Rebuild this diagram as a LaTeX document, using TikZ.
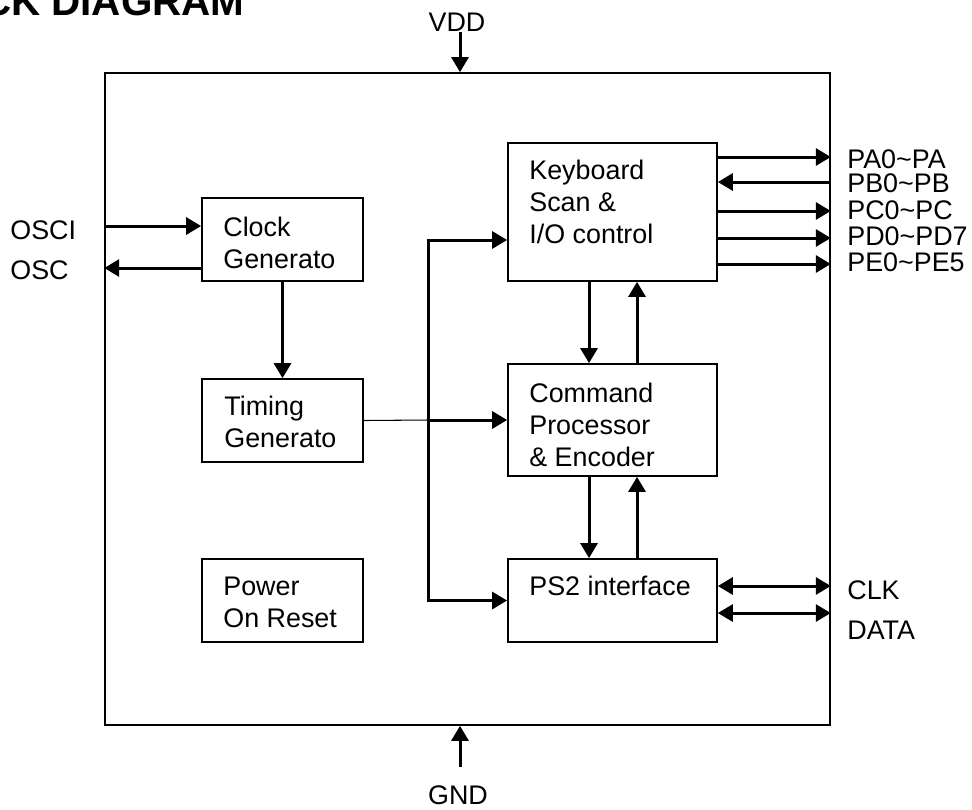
\documentclass[tikz,border=0pt]{standalone}
\usepackage{fontspec}
\setmainfont{Liberation Sans}
\usetikzlibrary{arrows.meta, calc}
\tikzset{>={Triangle[length=0.3cm,width=0.34cm]}}

\begin{document}
\begin{tikzpicture}[x=0.02cm, y=-0.02cm,
    blk/.style={draw, line width=1pt, inner sep=0pt},
    txt/.style={inner sep=0pt, align=left, font=\fontsize{15.3}{18.2}\selectfont},
    pin/.style={inner sep=0pt, anchor=west, font=\fontsize{15.3}{18.2}\selectfont},
    arr/.style={->, line width=1.7pt},
    wire/.style={line width=0.6pt}]
    \useasboundingbox (0,0) rectangle (972,809);
    \clip (0,0) rectangle (972,809);
    \node[anchor=base east, inner sep=0pt, font=\fontsize{23}{27}\selectfont\bfseries] (title) at (245,15) {BLOCK DIAGRAM};

    % chip outline and blocks
    \node[blk, minimum width=14.5cm, minimum height=13.04cm] (chip) at (467.5,399) {};
    \node[blk, minimum width=3.22cm, minimum height=1.66cm] (clk) at (282.5,239.5) {};
    \node[blk, minimum width=3.22cm, minimum height=1.66cm] (tim) at (282.5,420.5) {};
    \node[blk, minimum width=3.22cm, minimum height=1.66cm] (por) at (282.5,600.5) {};
    \node[blk, minimum width=4.18cm, minimum height=2.76cm] (kbd) at (612.5,212) {};
    \node[blk, minimum width=4.18cm, minimum height=2.24cm] (cmd) at (612.5,420) {};
    \node[blk, minimum width=4.18cm, minimum height=1.66cm] (ps2) at (612.5,600.5) {};

    \node[txt, anchor=base west] (clktxt) at (223,268) {Clock\\Generato};
    \node[txt, anchor=base west] (timtxt) at (224,447) {Timing\\Generato};
    \node[txt, anchor=base west] (portxt) at (223,627) {Power\\On Reset};
    \node[txt, anchor=base west] (kbdtxt) at (529,243) {Keyboard\\Scan \&\\I/O control};
    \node[txt, anchor=base west] (cmdtxt) at (529,466) {Command\\Processor\\\& Encoder};
    \node[txt, anchor=base west] (ps2txt) at (529,595) {PS2 interface};

    % oscillator
    \node[pin] (osci) at (10,230) {OSCI};
    \node[pin] (osc) at (10,270) {OSC};
    \draw[arr] (chip.west |- 0,226) -- (clk.west |- 0,226);
    \draw[arr] (clk.west |- 0,268) -- (chip.west |- 0,268);
    \draw[arr] (clk) -- (tim);

    % timing bus
    \coordinate (bus) at (428,420);
    \draw[wire] (tim.east) -- (bus);
    \draw[arr] (bus) -- (cmd.west);
    \draw[arr, <->] (kbd.west |- 0,240) -| (bus) |- (ps2.west);

    \draw[arr] ([xshift=-0.47cm]kbd.south) -- ([xshift=-0.47cm]cmd.north);
    \draw[arr] ([xshift=0.49cm]cmd.north) -- ([xshift=0.49cm]kbd.south);
    \draw[arr] ([xshift=-0.47cm]cmd.south) -- ([xshift=-0.47cm]ps2.north);
    \draw[arr] ([xshift=0.49cm]ps2.north) -- ([xshift=0.49cm]cmd.south);

    % ports
    \foreach \y/\ly/\dir/\lbl [count=\i] in {157/159/->/PA0\textasciitilde PA, 182/183/<-/PB0\textasciitilde PB,
        211/210/->/PC0\textasciitilde PC, 238/236/->/PD0\textasciitilde PD7, 264/262/->/PE0\textasciitilde PE5}{
        \draw[arr, \dir] (kbd.east |- 0,\y) -- (chip.east |- 0,\y);
        \node[pin] (port\i) at (847,\ly) {\lbl};
    }
    \draw[arr, <->] (ps2.east |- 0,586) -- (chip.east |- 0,586);
    \draw[arr, <->] (ps2.east |- 0,613) -- (chip.east |- 0,613);
    \node[pin] (clkpin) at (847,590) {CLK};
    \node[pin] (datapin) at (847,630) {DATA};

    % supply
    \node[pin, anchor=center] (vdd) at (457,22) {VDD};
    \coordinate (vddpin) at (460,32);
    \draw[arr] (vddpin) -- (vddpin |- chip.north);
    \node[pin, anchor=center] (gnd) at (458,795) {GND};
    \coordinate (gndpin) at (460,767);
    \draw[arr] (gndpin) -- (gndpin |- chip.south);
\end{tikzpicture}
\end{document}
